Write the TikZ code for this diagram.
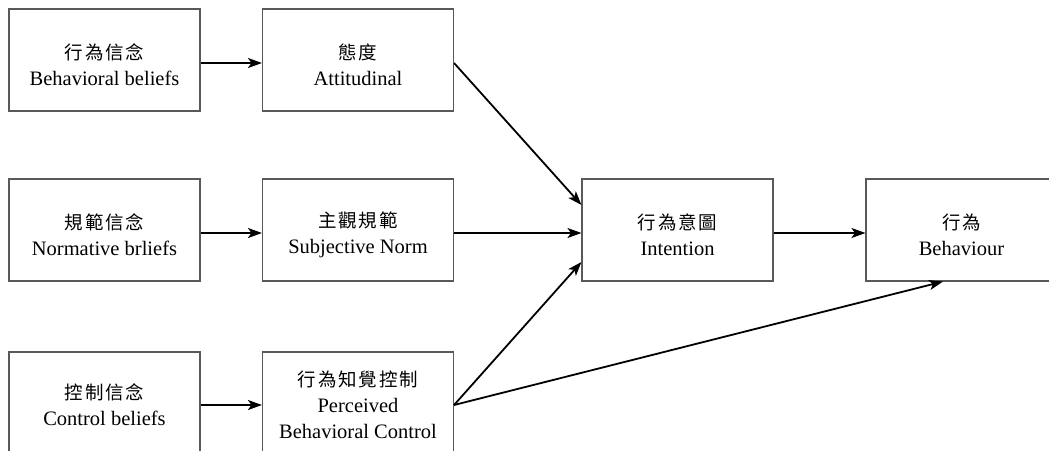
\documentclass[tikz,border=0pt]{standalone}
\usepackage{fontspec}
\setmainfont{Liberation Serif}
\newfontfamily\cjk[LetterSpace=10]{Noto Sans CJK TC}
\usetikzlibrary{arrows.meta}
\begin{document}
\begin{tikzpicture}[x=1pt,y=-1pt,
  box/.style={draw=black!65,line width=1.1pt,minimum width=191pt,minimum height=102pt,inner sep=0pt},
  txt/.style={align=center,inner sep=0pt,font=\fontsize{20.5}{26}\selectfont},
  arr/.style={line width=1.8pt,-{Stealth[length=14pt,width=10pt,inset=3.5pt]}}]
\useasboundingbox (0,0) rectangle (1049,450);
\clip (0,0) rectangle (1049,450);
% boxes
\node[box] (bb) at (104.5,60) {};
\node[box] (att) at (358,60) {};
\node[box] (nb) at (104.5,230) {};
\node[box] (sn) at (358,230) {};
\node[box] (cb) at (104.5,403) {};
\node[box] (pbc) at (358,403) {};
\node[box] (int) at (677.5,230) {};
\node[box] (beh) at (961.5,230) {};
% texts
\newcommand{\cj}[1]{{\cjk\fontsize{18.5}{26}\selectfont #1}}
\node[txt] (tbb) at ([yshift=-5]bb.center) {\cj{行為信念}\\Behavioral beliefs};
\node[txt] (tatt) at ([yshift=-5]att.center) {\cj{態度}\\Attitudinal};
\node[txt] (tnb) at ([yshift=-5]nb.center) {\cj{規範信念}\\Normative brliefs};
\node[txt] (tsn) at ([yshift=-5]sn.center) {\cj{主觀規範}\\Subjective Norm};
\node[txt] (tcb) at ([yshift=-2]cb.center) {\cj{控制信念}\\Control beliefs};
\node[txt] (tpbc) at ([yshift=-2]pbc.center) {\cj{行為知覺控制}\\Perceived\\Behavioral Control};
\node[txt] (tint) at ([yshift=-5]int.center) {\cj{行為意圖}\\Intention};
\node[txt] (tbeh) at ([yshift=-5]beh.center) {\cj{行為}\\Behaviour};
% arrows
\draw[arr] ([yshift=-3]bb.east) -- ([yshift=-3]att.west);
\draw[arr] ([yshift=-3]nb.east) -- ([yshift=-3]sn.west);
\draw[arr] ([yshift=-2]cb.east) -- ([yshift=-2]pbc.west);
\draw[arr] ([yshift=-3]att.east) -- ([yshift=25]int.west);
\draw[arr] ([yshift=-3]sn.east) -- ([yshift=-3]int.west);
\draw[arr] ([yshift=-2]pbc.east) -- ([yshift=-32]int.west);
\draw[arr] ([yshift=-2]pbc.east) -- ([xshift=-18.5]beh.south);
\draw[arr] ([yshift=-3]int.east) -- ([yshift=-3]beh.west);
\end{tikzpicture}
\end{document}
